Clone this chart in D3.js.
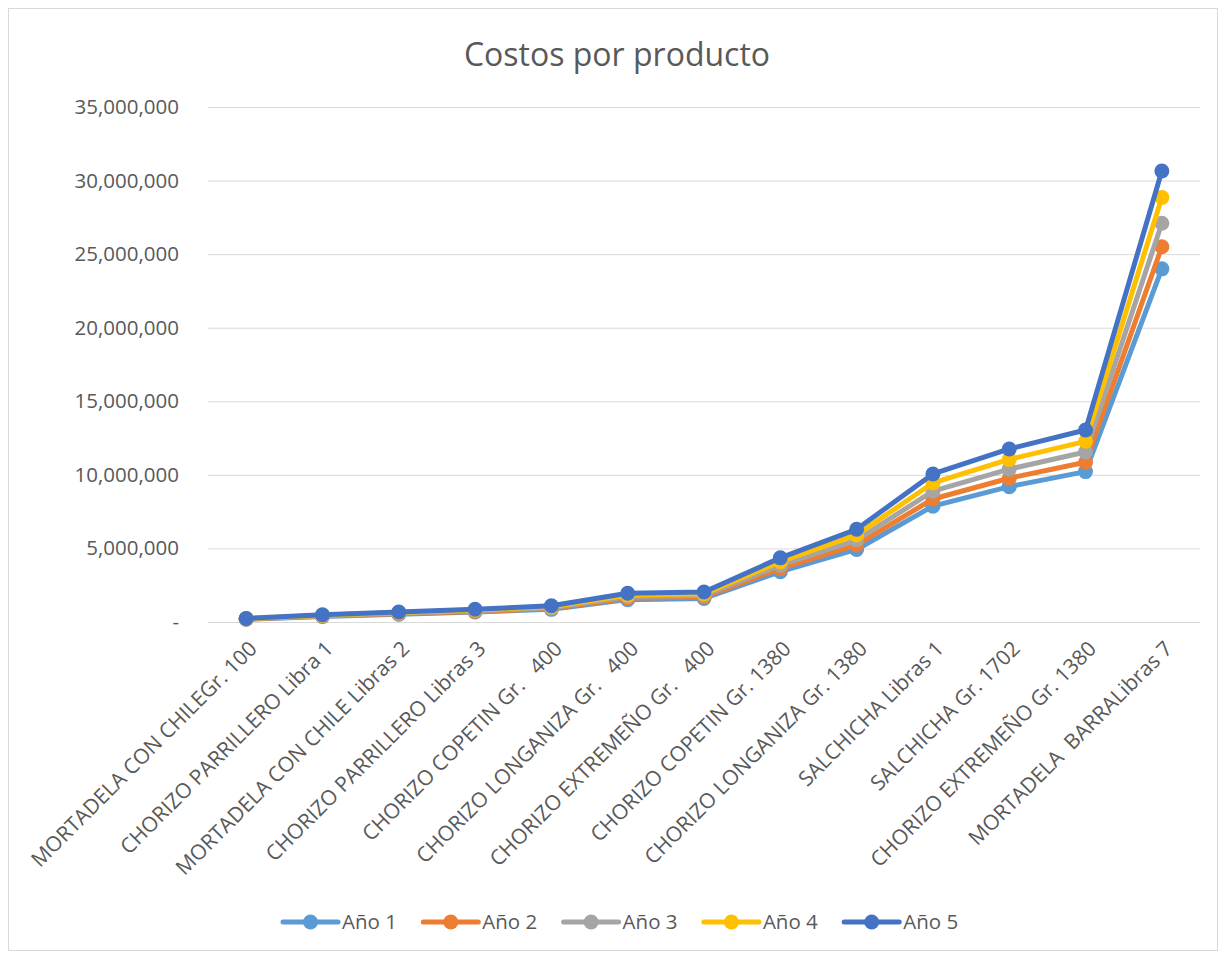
<!DOCTYPE html>
<html>
<head>
<meta charset="utf-8">
<script src="https://cdn.jsdelivr.net/npm/d3@7"></script>
<style>
  body { margin: 0; background: #fff; }
  text { font-family: "Open Sans", "Noto Sans", sans-serif; fill: #595959; white-space: pre; }
</style>
</head>
<body>
<svg id="chart" width="1225" height="955"></svg>
<script>
const categories = [
  "MORTADELA CON CHILEGr. 100",
  "CHORIZO PARRILLERO Libra 1",
  "MORTADELA CON CHILE Libras 2",
  "CHORIZO PARRILLERO Libras 3",
  "CHORIZO COPETIN Gr.   400",
  "CHORIZO LONGANIZA Gr.   400",
  "CHORIZO EXTREMEÑO Gr.   400",
  "CHORIZO COPETIN Gr. 1380",
  "CHORIZO LONGANIZA Gr. 1380",
  "SALCHICHA Libras 1",
  "SALCHICHA Gr. 1702",
  "CHORIZO EXTREMEÑO Gr. 1380",
  "MORTADELA  BARRALibras 7"
];
const seriesNames = ["Año 1", "Año 2", "Año 3", "Año 4", "Año 5"];
const seriesColors = ["#5B9BD5", "#ED7D31", "#A5A5A5", "#FFC000", "#4472C4"];
const anio1 = [190000, 380000, 530000, 680000, 860000, 1520000, 1600000, 3420000, 4930000, 7870000, 9200000, 10220000, 24000000];
const anio2 = [200000, 400000, 560000, 720000, 910000, 1620000, 1700000, 3630000, 5240000, 8360000, 9770000, 10860000, 25500000];
const anio3 = [210000, 430000, 600000, 770000, 970000, 1720000, 1810000, 3860000, 5570000, 8890000, 10390000, 11550000, 27100000];
const anio4 = [230000, 460000, 640000, 820000, 1030000, 1830000, 1920000, 4100000, 5920000, 9450000, 11050000, 12280000, 28850000];
const anio5 = [240000, 490000, 680000, 870000, 1100000, 1950000, 2040000, 4360000, 6300000, 10060000, 11760000, 13050000, 30650000];
const yTicks = [0, 5000000, 10000000, 15000000, 20000000, 25000000, 30000000, 35000000];

const seriesValues = [anio1, anio2, anio3, anio4, anio5];

const svg = d3.select("#chart");

// outer border
svg.append("rect")
  .attr("x", 8.5).attr("y", 8.5)
  .attr("width", 1209).attr("height", 942)
  .attr("fill", "#fff").attr("stroke", "#d9d9d9").attr("stroke-width", 1);

const plot = { left: 208, right: 1200, top: 107, bottom: 622 };

const x = d3.scalePoint().domain(categories).range([plot.left, plot.right]).padding(0.5);
const y = d3.scaleLinear().domain([0, 35000000]).range([plot.bottom, plot.top]);

// title
svg.append("text")
  .attr("x", 617).attr("y", 66)
  .attr("text-anchor", "middle")
  .style("font-size", "32px")
  .text("Costos por producto");

// gridlines + y labels
const yAxis = d3.axisLeft(y).tickValues(yTicks)
  .tickSize(-(plot.right - plot.left))
  .tickPadding(29)
  .tickFormat(d => d === 0 ? "-" : d3.format(",")(d));

const gy = svg.append("g").attr("transform", `translate(${plot.left},0)`).call(yAxis);
gy.select(".domain").remove();
gy.selectAll(".tick line").attr("stroke", "#d9d9d9").attr("stroke-width", 1);
gy.selectAll(".tick text").style("font-size", "20.5px").attr("fill", "#595959");

// x axis labels
const gx = svg.append("g");
gx.selectAll("text")
  .data(categories)
  .join("text")
  .attr("text-anchor", "end")
  .attr("transform", d => `translate(${x(d) + 12},${plot.bottom + 28}) rotate(-45)`)
  .style("font-size", "21px")
  .text(d => d);

// lines
const line = d3.line().x((d, i) => x(categories[i])).y(d => y(d));

seriesValues.forEach((vals, si) => {
  const g = svg.append("g");
  g.append("path")
    .datum(vals)
    .attr("d", line)
    .attr("fill", "none")
    .attr("stroke", seriesColors[si])
    .attr("stroke-width", 5)
    .attr("stroke-linejoin", "round")
    .attr("stroke-linecap", "round");
  g.selectAll("circle")
    .data(vals)
    .join("circle")
    .attr("cx", (d, i) => x(categories[i]))
    .attr("cy", d => y(d))
    .attr("r", 7.5)
    .attr("fill", seriesColors[si]);
});

// legend
const legend = svg.append("g");
seriesNames.forEach((name, i) => {
  const lx = 283 + i * 140.3;
  const ly = 922;
  legend.append("line")
    .attr("x1", lx).attr("x2", lx + 55)
    .attr("y1", ly).attr("y2", ly)
    .attr("stroke", seriesColors[i]).attr("stroke-width", 5)
    .attr("stroke-linecap", "round");
  legend.append("circle")
    .attr("cx", lx + 27.5).attr("cy", ly).attr("r", 7.5)
    .attr("fill", seriesColors[i]);
  legend.append("text")
    .attr("x", lx + 59).attr("y", ly)
    .attr("dy", "0.35em")
    .style("font-size", "20.5px")
    .text(name);
});
</script>
</body>
</html>
